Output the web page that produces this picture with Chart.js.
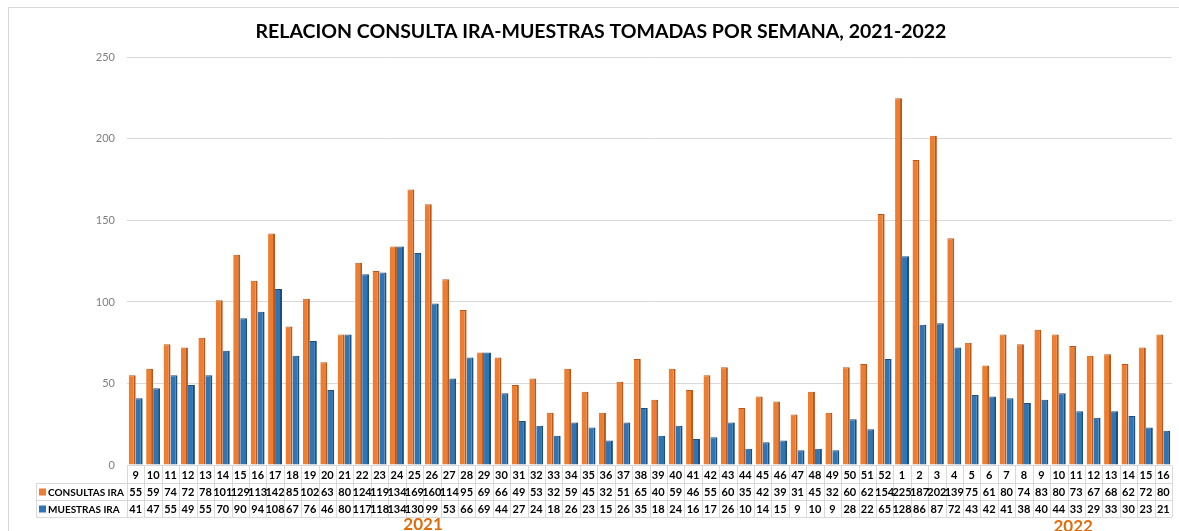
<!DOCTYPE html>
<html>
<head>
<meta charset="utf-8">
<script src="https://cdn.jsdelivr.net/npm/chart.js@4.4.0/dist/chart.umd.min.js"></script>
<style>
  html, body { margin: 0; padding: 0; background: #fff; }
  #wrap { width: 1179px; height: 531px; }
</style>
</head>
<body>
<div id="wrap"><canvas id="myChart" width="1179" height="531"></canvas></div>
<script>
'use strict';

// epidemiological weeks, 2021 (9-52) then 2022 (1-16)
const weeks = [9, 10, 11, 12, 13, 14, 15, 16, 17, 18, 19, 20, 21, 22, 23, 24,
  25, 26, 27, 28, 29, 30, 31, 32, 33, 34, 35, 36, 37, 38, 39, 40, 41, 42, 43, 44, 45, 46,
  47, 48, 49, 50, 51, 52,
  1, 2, 3, 4, 5, 6, 7, 8, 9, 10, 11, 12, 13, 14, 15, 16];

const consultas = [55, 59, 74, 72, 78, 101, 129, 113, 142, 85, 102, 63, 80, 124, 119, 134,
  169, 160, 114, 95, 69, 66, 49, 53, 32, 59, 45, 32, 51, 65, 40, 59, 46, 55, 60, 35, 42, 39,
  31, 45, 32, 60, 62, 154,
  225, 187, 202, 139, 75, 61, 80, 74, 83, 80, 73, 67, 68, 62, 72, 80];

const muestras = [41, 47, 55, 49, 55, 70, 90, 94, 108, 67, 76, 46, 80, 117, 118, 134,
  130, 99, 53, 66, 69, 44, 27, 24, 18, 26, 23, 15, 26, 35, 18, 24, 16, 17, 26, 10, 14, 15,
  9, 10, 9, 28, 22, 65,
  128, 86, 87, 72, 43, 42, 41, 38, 40, 44, 33, 29, 33, 30, 23, 21];

const seriesNames = ['CONSULTAS IRA', 'MUESTRAS IRA'];
const yearNames = ['2021', '2022'];
const yTicks = [0, 50, 100, 150, 200, 250];

const ORANGE = '#ED7D31';
const ORANGE_DARK = '#B8581C';
const BLUE = '#2E75B6';
const BLUE_DARK = '#1D4F7E';
const FONT = 'Lato, "Liberation Sans", sans-serif';

// draws the frame, the data table under the bars and the year labels
const tablePlugin = {
  id: 'dataTable',
  beforeDraw(chart) {
    const ctx = chart.ctx;
    ctx.save();
    ctx.strokeStyle = '#d9d9d9';
    ctx.lineWidth = 1;
    ctx.strokeRect(8.5, 7.5, 1300, 600);
    ctx.restore();
  },
  afterDraw(chart) {
    const ctx = chart.ctx;
    const x = chart.scales.x;
    const area = chart.chartArea;
    const colW = (area.right - area.left) / weeks.length;
    const rowH = 17;
    const top = area.bottom + 1;
    const labelLeft = 36;

    ctx.save();
    ctx.strokeStyle = '#d9d9d9';
    ctx.lineWidth = 1;
    ctx.beginPath();
    // vertical cell borders
    for (let i = 0; i <= weeks.length; i++) {
      const px = Math.round(area.left + i * colW) + 0.5;
      ctx.moveTo(px, top);
      ctx.lineTo(px, top + rowH * 3);
    }
    ctx.moveTo(labelLeft + 0.5, top + rowH);
    ctx.lineTo(labelLeft + 0.5, top + rowH * 3);
    // horizontal borders
    for (let r = 1; r <= 3; r++) {
      const py = Math.round(top + r * rowH) + 0.5;
      ctx.moveTo(labelLeft, py);
      ctx.lineTo(area.right, py);
    }
    ctx.stroke();

    ctx.fillStyle = '#000';
    ctx.font = 'bold 11px ' + FONT;
    ctx.textAlign = 'center';
    ctx.textBaseline = 'middle';
    weeks.forEach((w, i) => {
      const cx = x.getPixelForValue(i);
      ctx.fillText(String(w), cx, top + rowH * 0.5 + 1);
      ctx.fillText(String(consultas[i]), cx, top + rowH * 1.5 + 1);
      ctx.fillText(String(muestras[i]), cx, top + rowH * 2.5 + 1);
    });

    // legend keys in the first column
    const keys = [ORANGE, BLUE];
    ctx.font = 'bold 10px ' + FONT;
    ctx.textAlign = 'left';
    keys.forEach((c, r) => {
      const cy = top + rowH * (r + 1.5);
      ctx.fillStyle = c;
      ctx.fillRect(labelLeft + 3, cy - 3, 7, 7);
      ctx.fillStyle = '#000';
      ctx.fillText(seriesNames[r], labelLeft + 12, cy + 1);
    });

    // year captions
    ctx.fillStyle = '#E36C0A';
    ctx.font = 'bold 17px ' + FONT;
    ctx.textAlign = 'center';
    ctx.textBaseline = 'alphabetic';
    ctx.fillText(yearNames[0], (x.getPixelForValue(16) + x.getPixelForValue(17)) / 2, 530);
    ctx.fillText(yearNames[1], x.getPixelForValue(54) - 3, 532);
    ctx.restore();
  }
};

const ctx = document.getElementById('myChart').getContext('2d');
const chart = new Chart(ctx, {
  type: 'bar',
  data: {
    labels: weeks.map(String),
    datasets: [{
      label: seriesNames[0],
      data: consultas,
      backgroundColor: ORANGE,
      borderColor: ORANGE_DARK,
      borderWidth: { top: 1, right: 2, left: 0, bottom: 0 },
      borderSkipped: false,
      categoryPercentage: 0.8,
      barPercentage: 1
    }, {
      label: seriesNames[1],
      data: muestras,
      backgroundColor: BLUE,
      borderColor: BLUE_DARK,
      borderWidth: { top: 1, right: 2, left: 0, bottom: 0 },
      borderSkipped: false,
      categoryPercentage: 0.8,
      barPercentage: 1
    }]
  },
  options: {
    responsive: false,
    animation: false,
    layout: { padding: { left: 30, right: 7, top: 0, bottom: 66 } },
    plugins: {
      legend: { display: false },
      tooltip: { enabled: false },
      title: {
        display: true,
        text: 'RELACION CONSULTA IRA-MUESTRAS TOMADAS POR SEMANA, 2021-2022',
        color: '#000',
        font: { family: FONT, size: 19.5, weight: 'bold' },
        padding: { top: 20, bottom: 14 }
      }
    },
    scales: {
      x: { display: false },
      y: {
        min: 0,
        max: 250,
        afterFit(scale) { scale.width = 97; },
        afterBuildTicks(scale) { scale.ticks = yTicks.map(v => ({ value: v })); },
        border: { display: false },
        grid: { color: '#d9d9d9', drawTicks: false },
        ticks: { color: '#7f7f7f', padding: 12, font: { family: FONT, size: 11 } }
      }
    }
  },
  plugins: [tablePlugin]
});
</script>
</body>
</html>
